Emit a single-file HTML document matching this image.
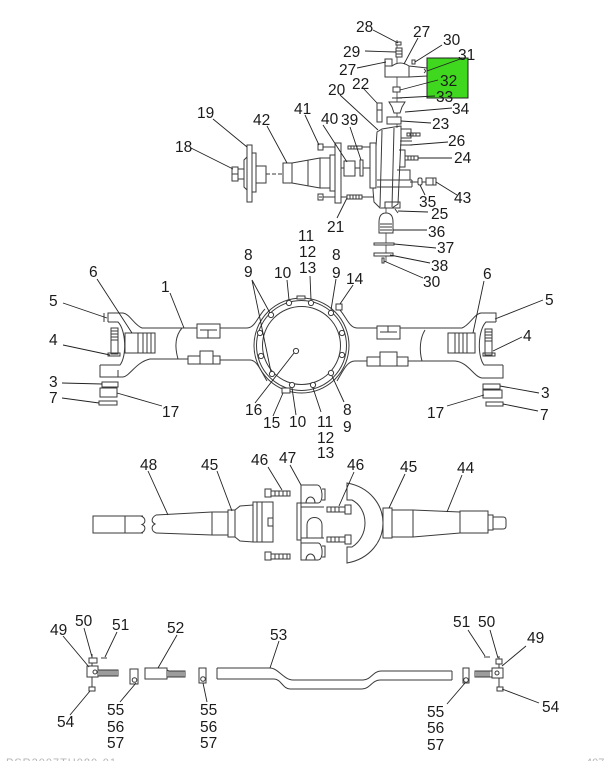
<!DOCTYPE html>
<html><head><meta charset="utf-8"><style>
html,body{margin:0;padding:0;background:#fff;}
svg{display:block;}
text{font-family:"Liberation Sans",Arial,sans-serif;font-size:15.5px;fill:#1b1b1b;}
</style></head><body>
<svg width="610" height="761" viewBox="0 0 610 761" xmlns="http://www.w3.org/2000/svg">
<rect x="0" y="0" width="610" height="761" fill="#fff"/>

<g fill="none" stroke="#3a3a3a" stroke-width="1">
  <rect x="232" y="167" width="6" height="14" fill="#fff"/>
  <path d="M232,174h6"/>
  <rect x="238" y="169" width="6" height="10"/>
  <path d="M247,157 L244,160 L244,187 L247,190"/>
  <rect x="247" y="145" width="5" height="57" fill="#fff"/>
  <rect x="252" y="153" width="4" height="39"/>
  <rect x="256" y="166" width="10" height="17"/>
  <path d="M266,174 L282,174" stroke-dasharray="4,2"/>
  <rect x="283" y="163" width="9" height="20"/>
  <path d="M292,163 L320,158 L320,188 L292,183"/>
  <path d="M308,160 L308,186"/>
  <rect x="320" y="158" width="10" height="30"/>
  <rect x="330" y="155" width="5" height="36"/>
  <rect x="335" y="143" width="6" height="60" fill="#fff"/>
  <rect x="318" y="144" width="5" height="6"/>
  <path d="M323,147 L335,147"/>
  <rect x="318" y="194" width="5" height="6"/>
  <path d="M319,197 h3"/>
  <path d="M323,197 L335,197"/>
  <rect x="348" y="146" width="14" height="3"/>
  <path d="M351,146v3M354,146v3M357,146v3"/>
  <path d="M362,147 L377,147"/>
  <path d="M341,197 L347,197"/>
  <rect x="347" y="195" width="15" height="4"/>
  <path d="M350,195v4M353,195v4M356,195v4M359,195v4"/>
  <path d="M362,197 L375,197"/>
  <path d="M341,168 L344,168"/>
  <rect x="344" y="161" width="11" height="15"/>
  <path d="M355,168 L360,168"/>
  <rect x="360" y="160" width="3" height="16"/>
  <path d="M363,168 L370,168"/>
  <path d="M377,132 L382,129 L394,127 L401,126 L401,140 L398,204 L392,208 L380,208 L374,202 L373,190 Z" fill="#fff"/>
  <path d="M382,130 L380,207"/>
  <path d="M394,128 L392,207"/>
  <rect x="370" y="143" width="6" height="45" fill="#fff"/>
  <path d="M401,129 h10 v9 h-10"/>
  <path d="M400,141 h12"/>
  <path d="M399,150 h6 v17 h-6"/>
  <path d="M377,180 L412,180 M377,187 L412,187 M412,180 L412,187"/>
  <path d="M397,170 L410,170 L410,180"/>
  <rect x="385" y="202" width="15" height="6"/>
  <rect x="377" y="103" width="5" height="19"/>
  <path d="M377,110 h5"/>
  <path d="M397,40 L397,128" stroke-width="0.8"/>
  <path d="M386,208 L386,262" stroke-width="0.8"/>
  <rect x="396" y="42" width="5" height="3" fill="#fff"/>
  <rect x="396" y="48" width="6" height="9" fill="#fff"/>
  <path d="M396,51h6M396,54h6"/>
  <rect x="385" y="59" width="7" height="7" fill="#fff"/>
  <path d="M385,66 L392,66 Q400,60 409,66 L427,68 L427,76 L409,77 L385,77 Z" fill="#fff"/>
  <path d="M409,66 L409,77"/>
  <rect x="412" y="60" width="3" height="4"/>
  <path d="M424,69 q3,2 0,4"/>
  <rect x="393" y="87" width="7" height="5" fill="#fff"/>
  <path d="M392,98 L402,98"/>
  <path d="M389,102 L405,102 L402,107 L400,113 L394,113 L392,107 Z" fill="#fff"/>
  <rect x="387" y="117" width="14" height="7" fill="#fff"/>
  <rect x="407" y="133" width="13" height="3"/>
  <path d="M410,133v3M413,133v3M416,133v3"/>
  <path d="M400,145 L412,145"/>
  <rect x="405" y="156" width="13" height="4"/>
  <path d="M408,156v4M411,156v4M414,156v4"/>
  <path d="M410,182 L418,182"/>
  <rect x="418" y="178" width="4" height="7" rx="1.5"/>
  <path d="M422,182 L426,182"/>
  <rect x="426" y="178" width="10" height="7"/>
  <path d="M433,178v7"/>
  <path d="M395,209 L398,213"/>
  <path d="M379,233 L379,222 Q379,213 386,213 Q393,213 393,222 L393,233 Z" fill="#fff"/>
  <path d="M380,224h12M380,227h12M380,230h12"/>
  <rect x="374" y="243" width="20" height="2" fill="#fff"/>
  <rect x="374" y="253" width="19" height="3" fill="#fff"/>
  <rect x="382" y="258" width="2" height="5"/>
</g>

<rect x="427" y="58" width="41" height="40" fill="#3fd81f" stroke="#222" stroke-width="1"/>

<g fill="none" stroke="#3a3a3a" stroke-width="1">
  <path d="M108,322 L108,313 L123,313 C130,314 134,325 142,328 L197,328"/>
  <path d="M220,328 L247,328 C255,328 258,316 265,309"/>
  <path d="M100,365 L100,377 L123,377 C130,376 136,362 150,359 L188,359"/>
  <path d="M220,360 L250,360 C257,360 261,371 267,381"/>
  <path d="M108,322 L118,322 C126,330 127,356 120,365 L100,365"/>
  <path d="M104,322 L104,313 M118,377 L118,370"/>
  <path d="M182,328 C176,335 174,345 178,359"/>
  <rect x="125" y="333" width="30" height="20" fill="#fff"/>
  <path d="M138,333v20M143,333v20M147,333v20M151,333v20"/>
  <rect x="111" y="328" width="7" height="26" fill="#fff"/>
  <path d="M111,331h7M111,334h7M111,337h7M111,340h7"/>
  <path d="M108,353 h12 v3 h-12 z"/>
  <rect x="197" y="324" width="23" height="14" fill="#fff"/>
  <path d="M200,330 L217,330 M208,330 L208,338"/>
  <path d="M188,364 L188,356 L200,356 L200,351 L213,351 L213,356 L220,356 L220,364 Z" fill="#fff"/>
  <path d="M200,356v8M213,356v8"/>
  <rect x="102" y="382" width="16" height="5"/>
  <rect x="100" y="388" width="17" height="9"/>
  <rect x="99" y="401" width="18" height="4"/>

  <path d="M496,322 L496,313 L481,313 C474,314 470,325 462,328 L400,328"/>
  <path d="M377,328 L357,328 C349,328 346,316 339,309"/>
  <path d="M503,365 L503,378 L482,378 C474,377 468,362 455,361 L408,361"/>
  <path d="M367,361 L355,361 C347,361 343,371 337,381"/>
  <path d="M496,322 L486,322 C478,330 477,356 484,365 L503,365"/>
  <path d="M425,330 C420,338 419,350 422,361"/>
  <rect x="448" y="333" width="27" height="20" fill="#fff"/>
  <path d="M455,333v20M459,333v20M463,333v20M467,333v20"/>
  <rect x="485" y="329" width="7" height="26" fill="#fff"/>
  <path d="M485,332h7M485,335h7M485,338h7M485,341h7"/>
  <path d="M483,353 h12 v3 h-12 z"/>
  <rect x="377" y="326" width="23" height="13" fill="#fff"/>
  <path d="M380,332 L397,332 M388,326 L388,332"/>
  <path d="M367,366 L367,357 L380,357 L380,352 L397,352 L397,357 L408,357 L408,366 Z" fill="#fff"/>
  <path d="M380,357v9M397,357v9"/>
  <rect x="483" y="384" width="17" height="5"/>
  <rect x="483" y="390" width="19" height="8"/>
  <rect x="486" y="402" width="17" height="4"/>

  <circle cx="301.5" cy="345.5" r="47.5" fill="#fff"/>
  <circle cx="301.5" cy="345.5" r="45"/>
  <circle cx="301.5" cy="345.5" r="39"/>
  <rect x="297" y="296" width="8" height="3" fill="#fff"/>
  <rect x="336" y="304" width="6" height="6" fill="#fff"/>
  <g fill="#fff">
    <circle cx="289" cy="303" r="2.6"/>
    <circle cx="311" cy="303" r="2.6"/>
    <circle cx="331" cy="313" r="2.6"/>
    <circle cx="342" cy="333" r="2.6"/>
    <circle cx="342" cy="355" r="2.6"/>
    <circle cx="331" cy="373" r="2.6"/>
    <circle cx="271" cy="315" r="2.6"/>
    <circle cx="260" cy="333" r="2.6"/>
    <circle cx="261" cy="356" r="2.6"/>
    <circle cx="272" cy="374" r="2.6"/>
    <circle cx="292" cy="385" r="2.6"/>
    <circle cx="313" cy="385" r="2.6"/>
    <circle cx="296" cy="351" r="2.6"/>
  </g>
  <rect x="282" y="388" width="8" height="5" fill="#fff"/>
</g>

<g fill="none" stroke="#3a3a3a" stroke-width="1">
  <path d="M143,516 L93,516 L93,533 L143,533"/>
  <path d="M125,516 L125,533"/>
  <path d="M141,516 C146,518 146,523 142,524.5 C146,526 146,531 141,533"/>
  <path d="M156,515 C151,518 151,522 155,524 C151,526 151,531 156,533"/>
  <path d="M156,515 L212,512 M156,533 L212,535"/>
  <rect x="212" y="512" width="16" height="23"/>
  <rect x="228" y="510" width="7" height="27"/>
  <path d="M235,510 L240,506 L253,505 L253,542 L240,541 L235,537"/>
  <rect x="253" y="502" width="20" height="40" fill="#fff"/>
  <path d="M257,502v40M262,502v40"/>
  <path d="M273,518 h-5 v8 h5"/>
  <rect x="265" y="489" width="6" height="8"/>
  <rect x="271" y="491" width="19" height="5"/>
  <path d="M275,491v5M279,491v5M283,491v5M287,491v5"/>
  <rect x="265" y="552" width="6" height="8"/>
  <rect x="271" y="554" width="19" height="5"/>
  <path d="M275,554v5M279,554v5M283,554v5M287,554v5"/>
  <rect x="297" y="503" width="4" height="37"/>
  <path d="M301,485 L317,485 C323,485 324,503 318,503 L301,503 Z"/>
  <path d="M306,503 C306,495 315,495 315,503"/>
  <path d="M322,489 L325,489 L325,500 L322,500"/>
  <path d="M301,543 L318,543 C323,543 324,560 318,560 L301,560 Z"/>
  <path d="M306,560 C306,552 315,552 315,560"/>
  <path d="M322,546 L325,546 L325,557 L322,557"/>
  <path d="M301,503 L301,543 M301,507 L324,507 M301,538 L324,538"/>
  <path d="M307,538 L307,525 C307,515 322,515 322,525 L322,538"/>
  <rect x="327" y="507" width="18" height="5"/>
  <path d="M331,507v5M335,507v5M339,507v5"/>
  <rect x="345" y="505" width="6" height="9"/>
  <rect x="327" y="537" width="18" height="5"/>
  <path d="M331,537v5M335,537v5M339,537v5"/>
  <rect x="345" y="535" width="6" height="9"/>
  <path d="M347,483 C370,487 383,505 383,523 C383,541 370,559 347,563 L347,547 L352,547 C360,542 365,533 365,523 C365,513 360,504 352,500 L347,500 Z"/>
  <rect x="383" y="508" width="9" height="30"/>
  <rect x="392" y="510" width="21" height="27"/>
  <path d="M413,510 L460,512 M413,537 L460,533"/>
  <rect x="460" y="511" width="28" height="22"/>
  <rect x="488" y="515" width="5" height="15"/>
  <path d="M493,517 L503,517 Q506,517 506,520 L506,526 Q506,529 503,529 L493,529"/>
</g>

<g fill="none" stroke="#3a3a3a" stroke-width="1">
  <path d="M92,654 L92,688"/>
  <rect x="89" y="658" width="8" height="5" fill="#fff"/>
  <path d="M101,658 L107,658"/>
  <rect x="87" y="666" width="11" height="11" fill="#fff"/>
  <circle cx="95" cy="672" r="2"/>
  <rect x="98" y="670" width="20" height="6"/>
  <path d="M100,670v6M102,670v6M104,670v6M106,670v6M108,670v6M110,670v6M112,670v6M114,670v6M116,670v6"/>
  <rect x="89" y="687" width="6" height="4" fill="#fff"/>
  <rect x="130" y="669" width="8" height="15"/>
  <circle cx="134.5" cy="680" r="2.3"/>
  <rect x="199" y="668" width="7" height="15"/>
  <circle cx="203" cy="679" r="2.3"/>
  <rect x="463" y="668" width="6" height="15"/>
  <circle cx="466" cy="680" r="2.3"/>
  <rect x="145" y="668" width="22" height="11"/>
  <path d="M167,670 L169,671 L169,677 L167,677"/>
  <rect x="169" y="671" width="16" height="6"/>
  <path d="M171,671v6M173,671v6M175,671v6M177,671v6M179,671v6M181,671v6M183,671v6"/>
  <path d="M217,668 L270,668 C278,668 284,680 293,680 L363,680 C371,680 373,671 381,671 L452,671"/>
  <path d="M217,679 L274,679 C281,679 283,689 290,689 L362,689 C370,689 372,680 380,680 L452,680"/>
  <path d="M217,668 L217,679 M452,671 L452,680"/>
  <path d="M499,656 L499,688"/>
  <rect x="496" y="659" width="6" height="5" fill="#fff"/>
  <path d="M484,657 L490,657"/>
  <rect x="475" y="671" width="17" height="6"/>
  <path d="M477,671v6M479,671v6M481,671v6M483,671v6M485,671v6M487,671v6M489,671v6"/>
  <rect x="492" y="668" width="11" height="10" fill="#fff"/>
  <circle cx="497" cy="673" r="2"/>
  <rect x="497" y="687" width="6" height="4" fill="#fff"/>
</g>

<g stroke="#222" stroke-width="0.9" fill="none">
  <path d="M373,30 L398,43"/>
  <path d="M365,51 L396,52"/>
  <path d="M357,68 L386,62"/>
  <path d="M418,38 L404,64"/>
  <path d="M442,45 L415,62"/>
  <path d="M463,58 L427,71"/>
  <path d="M438,80 L400,90"/>
  <path d="M435,96 L397,98"/>
  <path d="M452,108 L405,112"/>
  <path d="M431,123 L401,121"/>
  <path d="M448,142 L410,145"/>
  <path d="M452,158 L418,158"/>
  <path d="M425,195 L420,185"/>
  <path d="M457,195 L436,182"/>
  <path d="M428,212 L398,211"/>
  <path d="M427,230 L393,230"/>
  <path d="M436,248 L394,244"/>
  <path d="M430,263 L390,255"/>
  <path d="M423,278 L384,261"/>
  <path d="M340,95 L378,130"/>
  <path d="M363,88 L377,103"/>
  <path d="M305,115 L319,145"/>
  <path d="M323,125 L347,162"/>
  <path d="M350,127 L361,160"/>
  <path d="M337,218 L347,198"/>
  <path d="M213,119 L247,147"/>
  <path d="M191,148 L233,169"/>
  <path d="M267,126 L287,163"/>
  <path d="M97,279 L132,333"/>
  <path d="M170,293 L184,328"/>
  <path d="M63,303 L107,318"/>
  <path d="M63,345 L110,355"/>
  <path d="M62,383 L102,384"/>
  <path d="M62,398 L99,403"/>
  <path d="M162,406 L117,393"/>
  <path d="M252,280 L270,313 M252,280 L271,372"/>
  <path d="M287,280 L289,300"/>
  <path d="M310,276 L311,300"/>
  <path d="M336,279 L331,310"/>
  <path d="M353,285 L340,304"/>
  <path d="M255,403 L294,353"/>
  <path d="M273,416 L283,393"/>
  <path d="M296,415 L292,388"/>
  <path d="M321,412 L313,388"/>
  <path d="M344,402 L332,376"/>
  <path d="M484,281 L473,333"/>
  <path d="M543,300 L495,319"/>
  <path d="M522,337 L493,351"/>
  <path d="M539,393 L500,386"/>
  <path d="M538,411 L503,404"/>
  <path d="M447,406 L484,395"/>
  <path d="M148,471 L168,515"/>
  <path d="M217,471 L232,511"/>
  <path d="M268,467 L282,490"/>
  <path d="M290,465 L301,485"/>
  <path d="M354,472 L339,506"/>
  <path d="M405,474 L389,508"/>
  <path d="M462,475 L447,512"/>
  <path d="M63,636 L89,667"/>
  <path d="M84,628 L92,657"/>
  <path d="M117,632 L105,657"/>
  <path d="M177,635 L158,668"/>
  <path d="M279,641 L270,668"/>
  <path d="M70,715 L90,691"/>
  <path d="M120,702 L136,683"/>
  <path d="M207,702 L203,683"/>
  <path d="M468,630 L485,656"/>
  <path d="M490,630 L498,658"/>
  <path d="M526,646 L502,666"/>
  <path d="M539,703 L502,689"/>
  <path d="M447,704 L465,683"/>
</g>

<g>
  <text x="356" y="32">28</text>
  <text x="413" y="37">27</text>
  <text x="343" y="57">29</text>
  <text x="443" y="45">30</text>
  <text x="458" y="60">31</text>
  <text x="339" y="75">27</text>
  <text x="440" y="86">32</text>
  <text x="352" y="89">22</text>
  <text x="328" y="95">20</text>
  <text x="436" y="102">33</text>
  <text x="452" y="114">34</text>
  <text x="197" y="118">19</text>
  <text x="294" y="114">41</text>
  <text x="253" y="125">42</text>
  <text x="321" y="124">40</text>
  <text x="341" y="125">39</text>
  <text x="432" y="129">23</text>
  <text x="448" y="146">26</text>
  <text x="175" y="152">18</text>
  <text x="454" y="163">24</text>
  <text x="454" y="203">43</text>
  <text x="419" y="207">35</text>
  <text x="431" y="219">25</text>
  <text x="327" y="232">21</text>
  <text x="428" y="237">36</text>
  <text x="298" y="241">11</text>
  <text x="437" y="253">37</text>
  <text x="299" y="257">12</text>
  <text x="244" y="260">8</text>
  <text x="332" y="260">8</text>
  <text x="431" y="271">38</text>
  <text x="299" y="273">13</text>
  <text x="244" y="277">9</text>
  <text x="332" y="278">9</text>
  <text x="274" y="278">10</text>
  <text x="89" y="277">6</text>
  <text x="346" y="284">14</text>
  <text x="423" y="287">30</text>
  <text x="483" y="279">6</text>
  <text x="161" y="292">1</text>
  <text x="49" y="306">5</text>
  <text x="545" y="305">5</text>
  <text x="49" y="345">4</text>
  <text x="523" y="341">4</text>
  <text x="49" y="387">3</text>
  <text x="541" y="398">3</text>
  <text x="49" y="403">7</text>
  <text x="540" y="420">7</text>
  <text x="162" y="417">17</text>
  <text x="427" y="418">17</text>
  <text x="343" y="415">8</text>
  <text x="343" y="432">9</text>
  <text x="245" y="415">16</text>
  <text x="289" y="427">10</text>
  <text x="263" y="428">15</text>
  <text x="317" y="427">11</text>
  <text x="317" y="443">12</text>
  <text x="317" y="458">13</text>
  <text x="140" y="470">48</text>
  <text x="201" y="470">45</text>
  <text x="251" y="465">46</text>
  <text x="279" y="463">47</text>
  <text x="347" y="470">46</text>
  <text x="400" y="472">45</text>
  <text x="457" y="473">44</text>
  <text x="75" y="626">50</text>
  <text x="112" y="630">51</text>
  <text x="50" y="635">49</text>
  <text x="167" y="633">52</text>
  <text x="270" y="640">53</text>
  <text x="453" y="627">51</text>
  <text x="478" y="627">50</text>
  <text x="527" y="643">49</text>
  <text x="57" y="727">54</text>
  <text x="542" y="712">54</text>
  <text x="107" y="715">55</text>
  <text x="107" y="732">56</text>
  <text x="107" y="748">57</text>
  <text x="200" y="715">55</text>
  <text x="200" y="732">56</text>
  <text x="200" y="748">57</text>
  <text x="427" y="717">55</text>
  <text x="427" y="733">56</text>
  <text x="427" y="750">57</text>
  <text x="6" y="766" style="font-size:11px;fill:#b5b5b5;letter-spacing:1px">PSR2007TH080-01</text>
  <text x="586" y="766" style="font-size:11px;fill:#b5b5b5">407</text>
</g>
</svg>
</body></html>
